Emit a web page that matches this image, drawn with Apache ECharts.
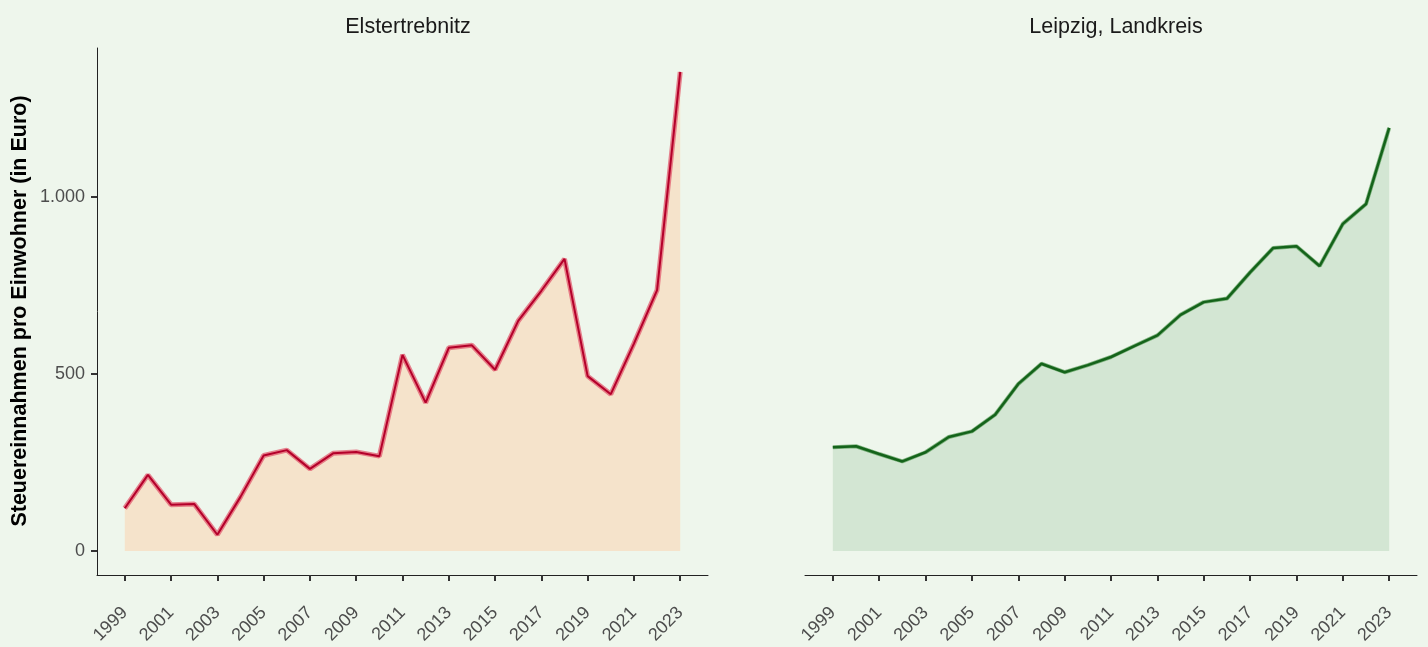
<!DOCTYPE html>
<html>
<head>
<meta charset="utf-8">
<script src="https://cdn.jsdelivr.net/npm/echarts@6/dist/echarts.min.js"></script>
<style>
    html, body { margin: 0; padding: 0; background: #EEF6EC; }
    #chart { width: 1428px; height: 647px; }
</style>
</head>
<body>
<div id="chart"></div>
<script>
    // Jahre und Werte (Euro pro Einwohner)
    const years = [1999, 2000, 2001, 2002, 2003, 2004, 2005, 2006, 2007, 2008, 2009, 2010, 2011,
        2012, 2013, 2014, 2015, 2016, 2017, 2018, 2019, 2020, 2021, 2022, 2023];
    const elstertrebnitz = [121, 215, 131, 133, 46, 153, 270, 285, 232, 276, 280, 268, 554,
        419, 574, 581, 512, 650, 735, 825, 494, 443, 586, 737, 1353];
    const leipzigLk = [293, 296, 274, 253, 279, 322, 338, 385, 472, 529, 505, 525, 548,
        579, 609, 667, 703, 713, 787, 856, 861, 805, 924, 980, 1195];
    const yearTicks = [1999, 2001, 2003, 2005, 2007, 2009, 2011, 2013, 2015, 2017, 2019, 2021, 2023];
    const yTicks = [0, 500, 1000];
    const panelTitles = ['Elstertrebnitz', 'Leipzig, Landkreis'];

    const font = '"Liberation Sans", Arial, sans-serif';
    const pairs = arr => years.map((y, i) => [y, arr[i]]);

    const chart = echarts.init(document.getElementById('chart'));

    const xAxisBase = gridIndex => ({
        type: 'value',
        gridIndex,
        min: 1997.8,
        max: 2024.2,
        axisLine: { show: true, onZero: false, lineStyle: { color: '#222', width: 1 } },
        axisTick: { show: true, customValues: yearTicks, length: 6, lineStyle: { color: '#333', width: 2 } },
        axisLabel: {
            customValues: yearTicks, rotate: 45, margin: 35,
            color: '#4D4D4D', fontSize: 18, fontFamily: font,
            formatter: v => String(v)
        },
        splitLine: { show: false }
    });

    const yAxisBase = (gridIndex, visible) => ({
        type: 'value',
        gridIndex,
        min: -67.65,
        max: 1420.65,
        axisLine: { show: visible, lineStyle: { color: '#222', width: 1 } },
        axisTick: { show: visible, customValues: yTicks, length: 6, lineStyle: { color: '#333', width: 2 } },
        axisLabel: {
            show: visible, customValues: yTicks, margin: 12,
            color: '#4D4D4D', fontSize: 18, fontFamily: font,
            formatter: v => v.toLocaleString('de-DE')
        },
        splitLine: { show: false }
    });

    const option = {
        backgroundColor: '#EEF6EC',
        animation: false,
        title: [
            { text: panelTitles[0], left: 403, top: 11, textAlign: 'center',
              textStyle: { fontFamily: font, fontSize: 21.5, fontWeight: 'normal', color: '#1A1A1A' } },
            { text: panelTitles[1], left: 1111, top: 11, textAlign: 'center',
              textStyle: { fontFamily: font, fontSize: 21.5, fontWeight: 'normal', color: '#1A1A1A' } }
        ],
        graphic: [{
            type: 'text',
            x: 20,
            y: 311,
            rotation: Math.PI / 2,
            style: {
                text: 'Steuereinnahmen pro Einwohner (in Euro)',
                fontFamily: font, fontSize: 21.5, fontWeight: 'bold', fill: '#000',
                align: 'center', verticalAlign: 'middle'
            }
        }],
        grid: [
            { left: 97, top: 48, width: 611, height: 527 },
            { left: 805, top: 48, width: 612, height: 527 }
        ],
        xAxis: [xAxisBase(0), xAxisBase(1)],
        yAxis: [yAxisBase(0, true), yAxisBase(1, false)],
        series: [
            {
                type: 'line', xAxisIndex: 0, yAxisIndex: 0,
                data: pairs(elstertrebnitz), symbol: 'none',
                lineStyle: { color: 'rgba(225,90,110,0.75)', width: 5 },
                areaStyle: { color: '#F5E3CB', opacity: 1 }
            },
            {
                type: 'line', xAxisIndex: 0, yAxisIndex: 0,
                data: pairs(elstertrebnitz), symbol: 'none',
                lineStyle: { color: '#B4002A', width: 2 }
            },
            {
                type: 'line', xAxisIndex: 1, yAxisIndex: 1,
                data: pairs(leipzigLk), symbol: 'none',
                lineStyle: { color: 'rgba(60,140,60,0.6)', width: 4 },
                areaStyle: { color: '#D3E6D3', opacity: 1 }
            },
            {
                type: 'line', xAxisIndex: 1, yAxisIndex: 1,
                data: pairs(leipzigLk), symbol: 'none',
                lineStyle: { color: '#14631A', width: 2.5 }
            }
        ]
    };

    chart.setOption(option);
</script>
</body>
</html>
